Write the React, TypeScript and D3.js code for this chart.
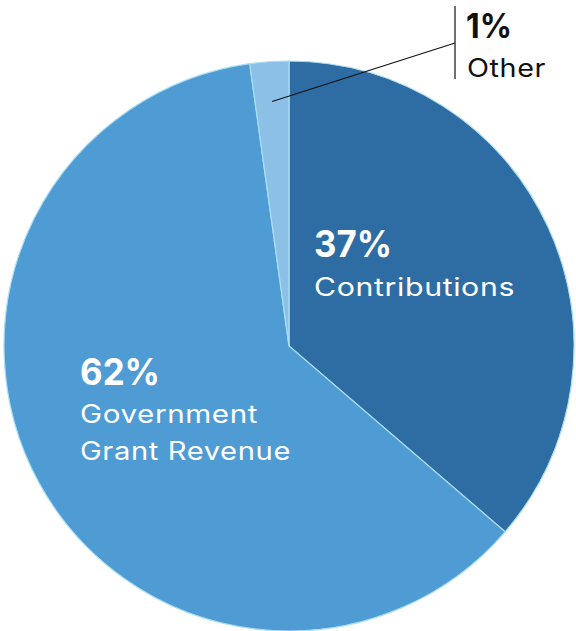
import React from "react";
import * as d3 from "d3";

const categories = ["Contributions", "Government Grant Revenue", "Other"];
const values = [36.3, 61.5, 2.2];
const pctLabels = ["37%", "62%", "1%"];
const colors = ["#2E6DA3", "#4F9BD4", "#8CC0E7"];

const W = 576;
const H = 631;
const cx = 289;
const cy = 346;
const R = 285;

export default function App() {
  const pie = d3.pie<number>().sort(null).value((d) => d)(values);
  const arc = d3.arc<d3.PieArcDatum<number>>().innerRadius(0).outerRadius(R);
  const otherArc = pie[2];
  const mid = (otherArc.startAngle + otherArc.endAngle) / 2;
  const lr = R * 0.86;
  const lx = cx + Math.sin(mid) * lr;
  const ly = cy - Math.cos(mid) * lr;
  const font = "Inter, 'Open Sans', sans-serif";
  return (
    <svg width={W} height={H} style={{ position: "absolute", left: 0, top: 0 }}>
      <g transform={`translate(${cx},${cy})`}>
        {pie.map((p, i) => (
          <path key={categories[i]} d={arc(p) || ""} fill={colors[i]} stroke="#A9DDF0" strokeWidth={1.2} />
        ))}
      </g>
      <line x1={lx} y1={ly} x2={455} y2={43} stroke="#111" strokeWidth={1.2} />
      <line x1={455} y1={6} x2={455} y2={79} stroke="#111" strokeWidth={1.2} />
      <text x={466} y={38} fontFamily={font} fontWeight={700} fontSize={34} textLength={46} lengthAdjust="spacingAndGlyphs" fill="#111">{pctLabels[2]}</text>
      <text x={467} y={77} fontFamily={font} fontSize={25} textLength={79} lengthAdjust="spacingAndGlyphs" letterSpacing={0.5} fill="#111">{categories[2]}</text>

      <text x={314} y={257} fontFamily={font} fontWeight={700} fontSize={37} textLength={78} lengthAdjust="spacingAndGlyphs" fill="#fff">{pctLabels[0]}</text>
      <text x={314} y={296} fontFamily={font} fontSize={25} textLength={201} lengthAdjust="spacingAndGlyphs" letterSpacing={0.5} fill="#fff">{categories[0]}</text>

      <text x={80} y={385} fontFamily={font} fontWeight={700} fontSize={37} textLength={80} lengthAdjust="spacingAndGlyphs" fill="#fff">{pctLabels[1]}</text>
      <text x={80} y={423} fontFamily={font} fontSize={25} textLength={178} lengthAdjust="spacingAndGlyphs" letterSpacing={0.5} fill="#fff">Government</text>
      <text x={80} y={460} fontFamily={font} fontSize={25} textLength={211} lengthAdjust="spacingAndGlyphs" letterSpacing={0.5} fill="#fff">Grant Revenue</text>
    </svg>
  );
}
